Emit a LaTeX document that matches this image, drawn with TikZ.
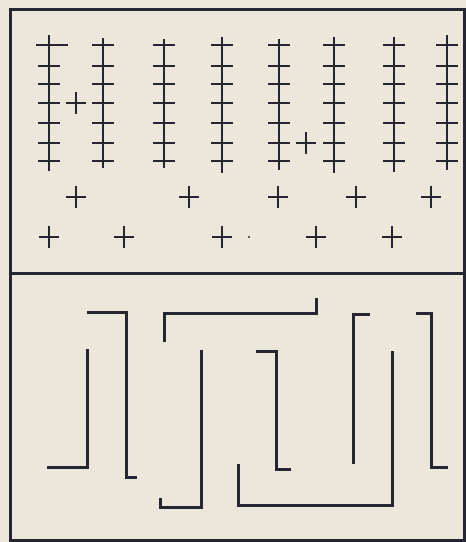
\documentclass[tikz,border=0pt]{standalone}
\begin{document}
\begin{tikzpicture}[x=1pt,y=-1pt,
  ink/.style={draw={rgb,255:red,38;green,38;blue,48},line cap=butt},
  frame/.style={ink,line width=3pt},
  stem/.style={ink,line width=2pt},
  tick/.style={ink,line width=2pt},
  wall/.style={ink,line width=3pt,line join=miter}]
\definecolor{paper}{RGB}{237,231,219}
\fill[paper] (0,0) rectangle (466,542);
\useasboundingbox (0,0) rectangle (466,542);
% frame and divider
\draw[frame] (10,9) rectangle (464,540);
\draw[frame] (10,273) -- (464,273);
% stems with ticks
\foreach \x/\a/\b in {49/35/171,103/38/168,164/39/168,222/37/173,279/39/170,334/37/173,394/37/172,447/35/170}{
  \draw[stem] (\x,\a) -- (\x,\b);
  \foreach \y in {45,66,84,103,123,143,161}{
    \draw[tick] (\x-11,\y) -- (\x+11,\y);
  }
}
\draw[tick] (36,45) -- (68,45);
% extra crosses
\foreach \x/\y in {76/103,306/143,76/197,189/197,278/197,356/197,431/197,49/237,124/237,222/237,316/237,392/237}{
  \draw[tick] (\x-10,\y) -- (\x+10,\y);
  \draw[tick] (\x,\y-11) -- (\x,\y+11);
}
\fill[black!80] (249,237) circle (1.2);
% maze lines (bottom panel)
\draw[wall] (87,312) -- (126,312) -- (126,477) -- (137,477);
\draw[wall] (87,349) -- (87,467) -- (47,467);
\draw[wall] (164,342) -- (164,313) -- (316,313) -- (316,298);
\draw[wall] (201,350) -- (201,507) -- (160,507) -- (160,498);
\draw[wall] (256,351) -- (276,351) -- (276,469) -- (291,469);
\draw[wall] (238,464) -- (238,505) -- (392,505) -- (392,351);
\draw[wall] (370,314) -- (353,314) -- (353,464);
\draw[wall] (416,313) -- (431,313) -- (431,467) -- (448,467);
\end{tikzpicture}
\end{document}
